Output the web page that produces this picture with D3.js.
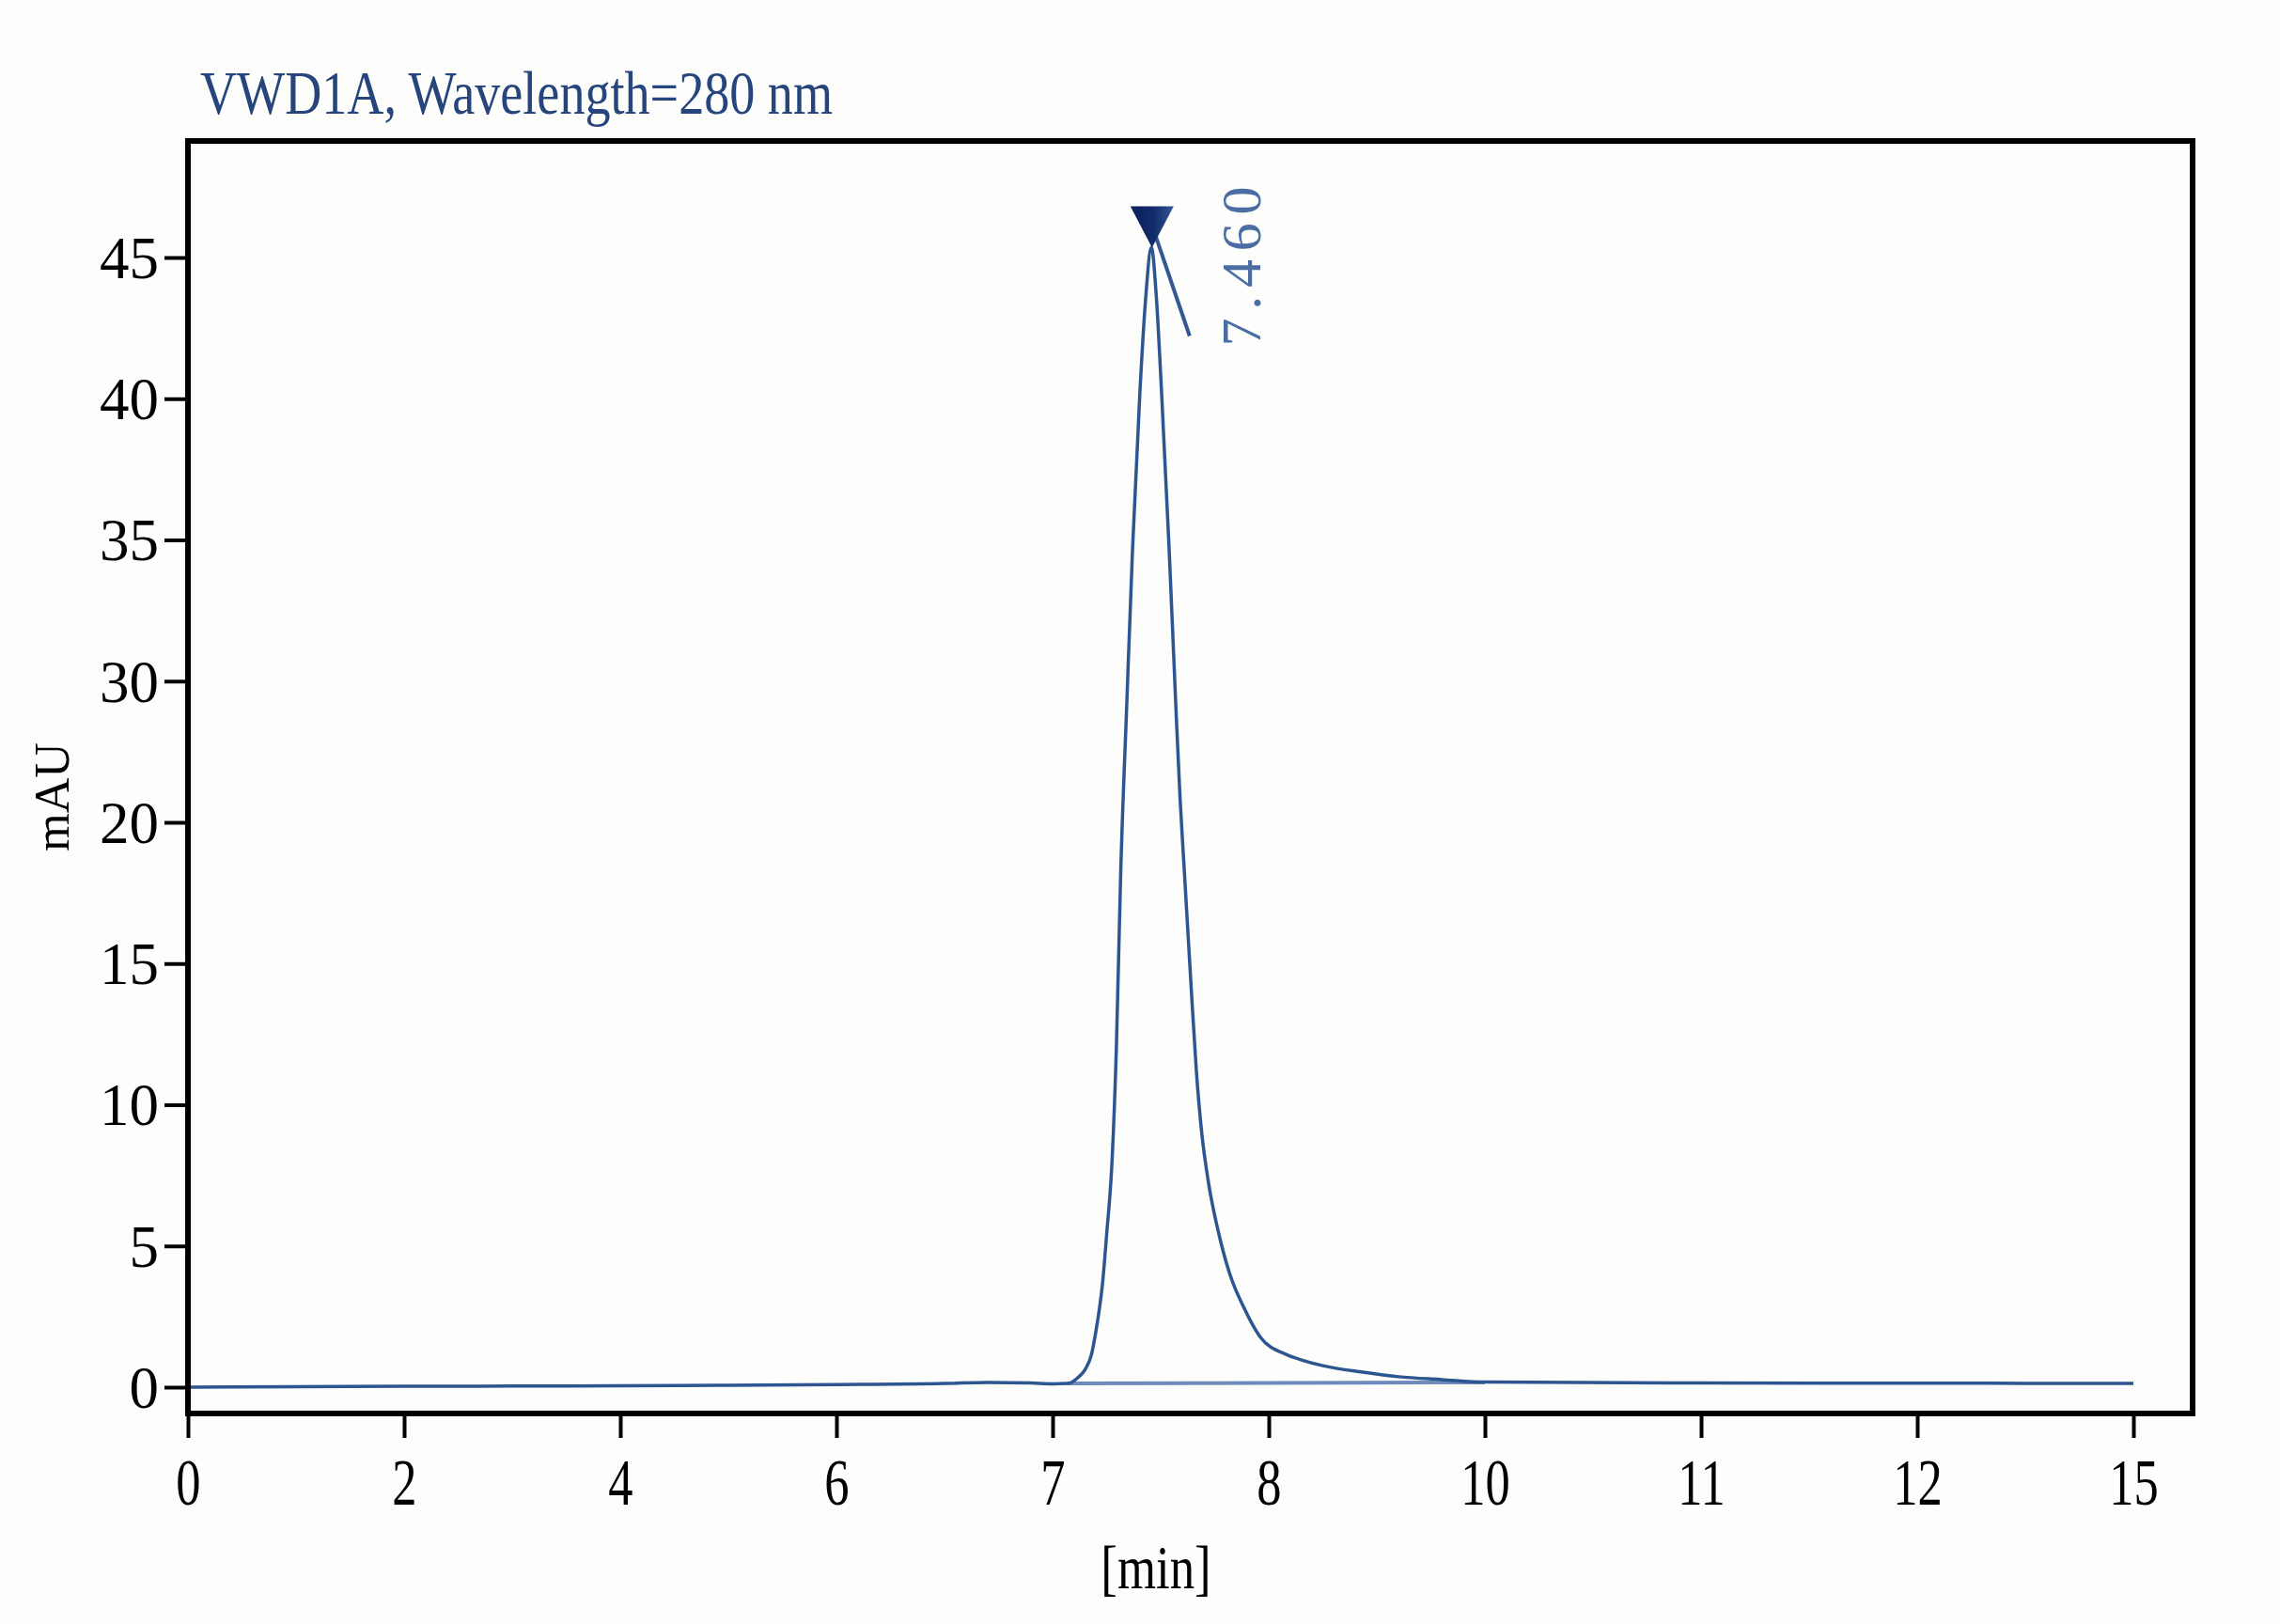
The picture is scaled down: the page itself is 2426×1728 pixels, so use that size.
<!DOCTYPE html>
<html>
<head>
<meta charset="utf-8">
<script src="https://cdn.jsdelivr.net/npm/d3@7"></script>
<style>
	body { margin: 0; background: #fdfdfc; }
	svg { display: block; }
	.frame { fill: none; stroke: #000; stroke-width: 6; }
	.axis path { display: none; }
	.axis line { stroke: #000; stroke-width: 4; }
	.axis text { font-family: "Liberation Serif", serif; fill: #000; }
</style>
</head>
<body>
<script>
//chromatogram data
var xTicks = [0, 2, 4, 6, 7, 8, 10, 11, 12, 15];
var yTicks = [0, 5, 10, 15, 20, 30, 35, 40, 45];
var times = [0, 1, 2, 3, 4, 5, 6, 6.5, 6.7, 6.9, 7.0, 7.07, 7.12, 7.15, 7.18, 7.2, 7.217, 7.23, 7.25, 7.275, 7.295, 7.315, 7.343, 7.37, 7.404, 7.43, 7.457, 7.48, 7.504, 7.539, 7.57, 7.59, 7.61, 7.64, 7.665, 7.69, 7.72, 7.77, 7.82, 7.886, 7.96, 8.16, 8.29, 8.5, 8.87, 9.2, 9.6, 10.0, 11, 12, 13, 14, 15];
var signal = [0.0, 0.02, 0.03, 0.04, 0.05, 0.07, 0.09, 0.13, 0.17, 0.15, 0.12, 0.13, 0.36, 0.62, 1.16, 1.96, 2.8, 3.6, 5.4, 8.0, 12.0, 18.2, 28.3, 34.7, 40.25, 43.5, 45.35, 43.6, 40.25, 34.7, 28.3, 21.6, 18.2, 14.3, 11.2, 9.0, 7.3, 5.4, 4.0, 2.8, 1.78, 1.16, 0.98, 0.76, 0.53, 0.37, 0.27, 0.18, 0.15, 0.14, 0.14, 0.13, 0.13];
var integStart = [7.07, 0.13];
var integEnd = [10.0, 0.17];
var peakTime = 7.46, peakHeight = 45.35, peakLabel = "7.460";
var title = "VWD1A, Wavelength=280 nm";

var width = 2426, height = 1728;
var plotLeft = 200, plotRight = 2333, plotTop = 150, plotBottom = 1504;

var svg = d3.select("body").append("svg")
	.attr("width", width)
	.attr("height", height);

//ticks sit at equal steps on both axes, so the scales are piecewise
var xRange = xTicks.map(function(d, i){ return plotLeft + i * (2270 - plotLeft) / (xTicks.length - 1); });
var x = d3.scaleLinear().domain(xTicks).range(xRange);
var yRange = yTicks.map(function(d, i){ return 1476 - i * (1476 - 274) / (yTicks.length - 1); });
var y = d3.scaleLinear().domain(yTicks).range(yRange);

//title
svg.append("text")
	.attr("x", 213).attr("y", 121)
	.attr("textLength", 673)
	.attr("lengthAdjust", "spacingAndGlyphs")
	.style("font-family", "Liberation Serif, serif")
	.style("font-size", "66px")
	.style("fill", "#26457d")
	.text(title);

//axes
var xAxis = svg.append("g")
	.attr("class", "axis")
	.attr("transform", "translate(0," + plotBottom + ")")
	.call(d3.axisBottom(x).tickValues(xTicks).tickSize(26).tickPadding(0).tickFormat(d3.format("d")));
xAxis.selectAll("text")
	.attr("y", 97)
	.attr("dy", null)
	.attr("transform", "scale(0.75,1)")
	.style("font-size", "70px");

var yAxis = svg.append("g")
	.attr("class", "axis")
	.attr("transform", "translate(" + plotLeft + ",0)")
	.call(d3.axisLeft(y).tickValues(yTicks).tickSize(25).tickPadding(6).tickFormat(d3.format("d")));
yAxis.selectAll("text")
	.attr("dy", "0.34em")
	.style("font-size", "63px");

//axis titles
svg.append("text")
	.attr("transform", "translate(73,848) rotate(-90)")
	.attr("text-anchor", "middle")
	.style("font-family", "Liberation Serif, serif")
	.style("font-size", "52px")
	.text("mAU");

svg.append("text")
	.attr("transform", "translate(1230,1690) scale(0.8,1)")
	.attr("text-anchor", "middle")
	.style("font-family", "Liberation Serif, serif")
	.style("font-size", "66px")
	.text("[min]");

//integration baseline
svg.append("path")
	.datum([integStart, integEnd])
	.attr("d", d3.line().x(function(d){ return x(d[0]); }).y(function(d){ return y(d[1]); }))
	.style("fill", "none")
	.style("stroke", "#6d8cbb")
	.style("stroke-width", 4);

//signal
var pts = times.map(function(t, i){ return [t, signal[i]]; });
svg.append("path")
	.datum(pts)
	.attr("d", d3.line()
		.x(function(d){ return x(d[0]); })
		.y(function(d){ return y(d[1]); })
		.curve(d3.curveMonotoneX))
	.style("fill", "none")
	.style("stroke", "#2d5590")
	.style("stroke-width", 3.5);

//peak marker
var px = x(peakTime), py = y(peakHeight);
var grad = svg.append("defs").append("linearGradient")
	.attr("id", "tri").attr("x1", "0").attr("x2", "1").attr("y1", "0").attr("y2", "0");
grad.append("stop").attr("offset", "0%").attr("stop-color", "#0b1f5c");
grad.append("stop").attr("offset", "55%").attr("stop-color", "#132c6a");
grad.append("stop").attr("offset", "100%").attr("stop-color", "#345896");

svg.append("line")
	.attr("x1", px + 4).attr("y1", py - 12)
	.attr("x2", px + 40).attr("y2", py + 94)
	.style("stroke", "#34588f")
	.style("stroke-width", 4);

svg.append("path")
	.attr("d", "M" + (px - 23) + "," + (py - 44) + "L" + (px + 23) + "," + (py - 44) + "L" + px + "," + py + "Z")
	.style("fill", "url(#tri)");

svg.append("text")
	.attr("transform", "translate(" + (px + 115) + "," + (py + 105) + ") rotate(-90)")
	.attr("textLength", 170)
	.attr("lengthAdjust", "spacing")
	.style("font-family", "Liberation Serif, serif")
	.style("font-size", "60px")
	.style("fill", "#4a6da3")
	.text(peakLabel);

//frame
svg.append("rect")
	.attr("class", "frame")
	.attr("x", plotLeft).attr("y", plotTop)
	.attr("width", plotRight - plotLeft).attr("height", plotBottom - plotTop);
</script>
</body>
</html>
